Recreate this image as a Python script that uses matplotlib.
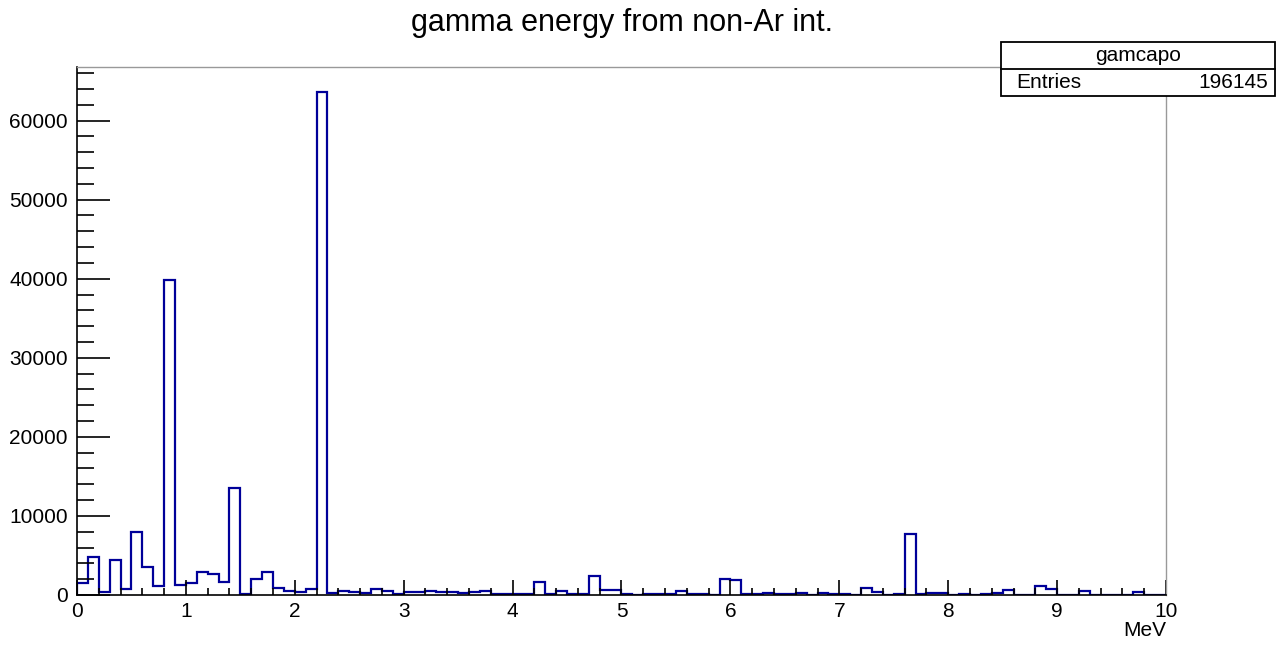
import numpy as np
import matplotlib
matplotlib.use('Agg')
import matplotlib.pyplot as plt
from matplotlib.ticker import MultipleLocator

plt.rcParams['font.family'] = ['Liberation Sans', 'DejaVu Sans']

# histogram "gamcapo": 100 bins, 0 - 10 MeV
edges = np.linspace(0, 10, 101)
counts = [
    1500, 4850, 380, 4430, 800, 8020, 3500, 1180, 39850, 1310,
    1480, 2950, 2700, 1650, 13500, 150, 2030, 2870, 840, 550,
    420, 720, 63600, 300, 550, 420, 300, 750, 500, 170,
    340, 420, 460, 340, 420, 200, 420, 550, 150, 150,
    150, 150, 1650, 100, 550, 150, 150, 2360, 630, 630,
    100, 0, 170, 130, 170, 500, 170, 80, 50, 2030,
    1900, 170, 130, 300, 80, 80, 250, 30, 300, 100,
    170, 50, 880, 380, 40, 120, 7770, 120, 200, 250,
    40, 120, 40, 130, 300, 630, 20, 20, 1180, 800,
    20, 20, 500, 10, 0, 0, 0, 330, 0, 0,
]
title = 'gamma energy from non-Ar int.'
hist_name = 'gamcapo'
entries = 196145

fig = plt.figure(figsize=(12.81, 6.45), dpi=100)
ax = fig.add_axes([77/1281, 1-595/645, (1166-77)/1281, (595-67)/645])

ax.stairs(counts, edges, color='#000099', lw=1.6, baseline=0)
ax.set_xlim(0, 10)
ax.set_ylim(0, max(counts)*1.05)

# tick lengths given in points (px * 0.72)
ax.xaxis.set_major_locator(MultipleLocator(1))
ax.xaxis.set_minor_locator(MultipleLocator(0.2))
ax.yaxis.set_major_locator(MultipleLocator(10000))
ax.yaxis.set_minor_locator(MultipleLocator(2000))
ax.tick_params(axis='x', which='major', direction='in', length=11, width=1.2, labelsize=15, pad=5)
ax.tick_params(axis='x', which='minor', direction='in', length=5, width=1.2)
ax.tick_params(axis='y', which='major', direction='in', length=24, width=1.2, labelsize=15, pad=6.5)
ax.tick_params(axis='y', which='minor', direction='in', length=12, width=1.2)

for s in ['top', 'right']:
    ax.spines[s].set_color('#999999')
    ax.spines[s].set_linewidth(1)
for s in ['left', 'bottom']:
    ax.spines[s].set_color('black')
    ax.spines[s].set_linewidth(1.2)

fig.text(622/1281, 1-23/645, title, ha='center', va='center', fontsize=22)
fig.text(1166/1281, 1-630/645, 'MeV', ha='right', va='center', fontsize=15)

# stats box
x0, x1, y0, ym, y1 = 1001/1281, 1275/1281, 1-42/645, 1-69/645, 1-96/645
fig.patches.append(plt.Rectangle((x0, y1), x1-x0, y0-y1, transform=fig.transFigure,
                                 facecolor='white', edgecolor='black', lw=1.3, zorder=5))
fig.lines.append(plt.Line2D([x0, x1], [ym, ym], transform=fig.transFigure, color='black', lw=1.3, zorder=6))
fig.text((x0+x1)/2, (y0+ym)/2, hist_name, ha='center', va='center', fontsize=15, zorder=7)
fig.text(1016/1281, (ym+y1)/2, 'Entries', ha='left', va='center', fontsize=15, zorder=7)
fig.text(1268/1281, (ym+y1)/2, str(entries), ha='right', va='center', fontsize=15, zorder=7)

fig.savefig('out.png', dpi=100)
